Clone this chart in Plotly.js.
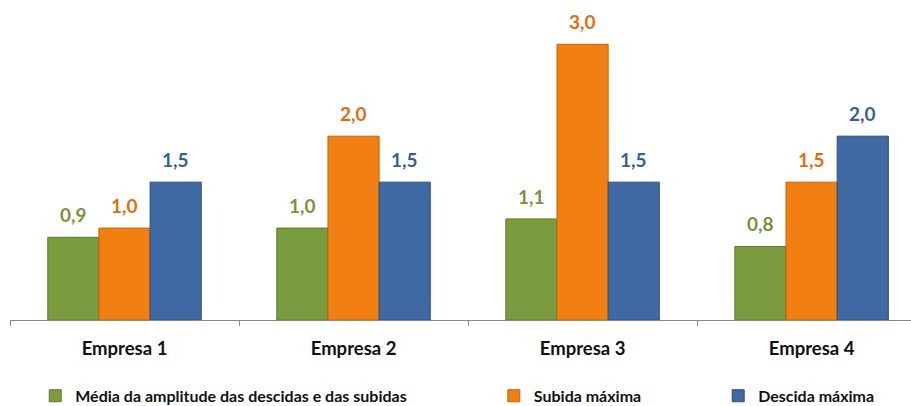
<!DOCTYPE html>
<html>
<head>
<meta charset="utf-8">
<script src="https://cdn.plot.ly/plotly-3.0.1.min.js"></script>
<style>html,body{margin:0;padding:0;background:#fff;}#chart{width:911px;height:406px;}</style>
</head>
<body>
<div id="chart"></div>
<script>
const categories = ["Empresa 1", "Empresa 2", "Empresa 3", "Empresa 4"];
const seriesNames = ["Média da amplitude das descidas e das subidas", "Subida máxima", "Descida máxima"];
const media = [0.9, 1.0, 1.1, 0.8];
const subida = [1.0, 2.0, 3.0, 1.5];
const descida = [1.5, 1.5, 1.5, 2.0];

const barColors = ["#7A9B3E", "#F27F12", "#3E69A3"];
const edgeColors = ["#5E7A2C", "#C4620A", "#2C4E7E"];
const labelColors = ["#77933C", "#E46C0A", "#376092"];
const values = [media, subida, descida];
const legends = ["legend", "legend2", "legend3"];
const bargap = 0.33;
const barW = (1 - bargap) / 3;

const traces = values.map((v, i) => ({
  type: "bar",
  name: seriesNames[i],
  x: categories,
  y: v,
  legend: legends[i],
  marker: {color: barColors[i], line: {color: edgeColors[i], width: 1}},
  hoverinfo: "none"
}));

const labelFont = {family: "Lato, 'DejaVu Sans', sans-serif", size: 19, weight: "bold"};
const annotations = [];
values.forEach((v, i) => {
  v.forEach((val, j) => {
    annotations.push({
      xref: "x", yref: "y",
      x: j + (i - 1) * barW, y: val,
      text: val.toFixed(1).replace(".", ","),
      showarrow: false, yanchor: "bottom", yshift: 9,
      font: Object.assign({color: labelColors[i]}, labelFont)
    });
  });
});

const legendFont = {family: "Lato, 'DejaVu Sans', sans-serif", size: 16, color: "#111", weight: "bold"};
const legendBase = {orientation: "h", yref: "container", yanchor: "middle", y: 0.025, xanchor: "left", font: legendFont, bgcolor: "rgba(0,0,0,0)", itemwidth: 30};

const layout = {
  width: 911, height: 406,
  margin: {l: 10, r: 0, t: 10, b: 86},
  paper_bgcolor: "#fff", plot_bgcolor: "#fff",
  barmode: "group",
  bargap: bargap,
  bargroupgap: 0,
  showlegend: true,
  annotations: annotations,
  legend: Object.assign({}, legendBase, {x: 0.028}),
  legend2: Object.assign({}, legendBase, {x: 0.537}),
  legend3: Object.assign({}, legendBase, {x: 0.786}),
  xaxis: {
    type: "category",
    range: [-0.5, 3.434],
    automargin: false,
    showline: true, linecolor: "#8a8a8a", linewidth: 1,
    ticks: "outside", tickson: "boundaries", ticklen: 5, tickcolor: "#8a8a8a",
    ticklabelstandoff: 12,
    tickfont: {family: "Lato, 'DejaVu Sans', sans-serif", size: 18.5, color: "#111", weight: "bold"},
    showgrid: false, zeroline: false
  },
  yaxis: {
    range: [0, 310 / 91.9], visible: false, showgrid: false, zeroline: false, automargin: false
  }
};

Plotly.newPlot("chart", traces, layout, {displayModeBar: false, staticPlot: true});
</script>
</body>
</html>
